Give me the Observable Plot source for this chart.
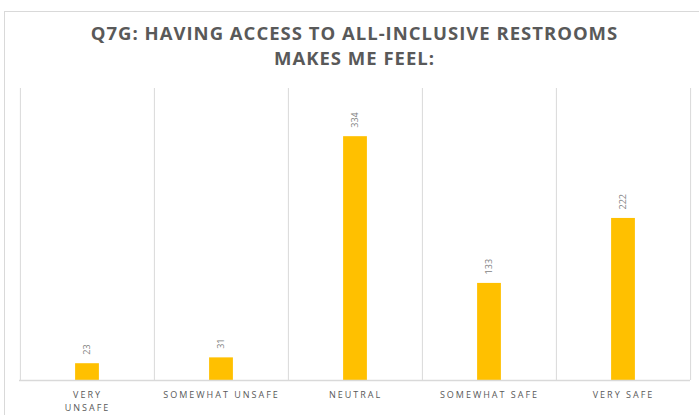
<!DOCTYPE html>
<html>
<head>
<meta charset="utf-8">
<script src="https://cdn.jsdelivr.net/npm/d3@7"></script>
<script src="https://cdn.jsdelivr.net/npm/@observablehq/plot@0.6"></script>
<style>
  html, body { margin: 0; padding: 0; background: #fff; }
  #wrap { position: relative; width: 699px; height: 415px; overflow: hidden; font-family: "Open Sans", sans-serif; }
  #border { position: absolute; left: 4px; top: 11px; width: 720px; height: 420px; border-left: 1px solid #d9d9d9; border-top: 1px solid #d9d9d9; }
  #title { position: absolute; left: 19px; width: 671px; top: 20px; text-align: center; color: #595959; font-weight: 700; font-size: 18.5px; line-height: 25px; letter-spacing: 1px; }
  #chart { position: absolute; left: 0; top: 78px; }
  .xlab text { letter-spacing: 2px; }
</style>
</head>
<body>
<div id="wrap">
  <div id="border"></div>
  <div id="title">Q7G: HAVING ACCESS TO ALL-INCLUSIVE RESTROOMS<br>MAKES ME FEEL:</div>
  <div id="chart"></div>
</div>
<script>
const categories = ["Very Unsafe", "Somewhat Unsafe", "Neutral", "Somewhat Safe", "Very Safe"];
const tickLabels = ["VERY\nUNSAFE", "SOMEWHAT UNSAFE", "NEUTRAL", "SOMEWHAT SAFE", "VERY SAFE"];
const values = [23, 31, 334, 133, 222];

const W = 699, H = 337, mL = 19, mR = 9, mT = 10, mB = 35;
const bw = (W - mL - mR) / categories.length;
const data = categories.map((c, i) => ({cat: c, value: values[i], label: tickLabels[i]}));

const chart = Plot.plot({
  width: W, height: H,
  marginLeft: mL, marginRight: mR, marginTop: mT, marginBottom: mB,
  style: {fontFamily: "Open Sans, sans-serif", background: "transparent", overflow: "visible"},
  x: {domain: categories, padding: 0, axis: null},
  y: {domain: [0, 400], axis: null},
  marks: [
    Plot.ruleX(categories, {x: d => d, dx: -bw / 2, stroke: "#d9d9d9", strokeWidth: 1}),
    Plot.ruleX([categories[categories.length - 1]], {x: d => d, dx: bw / 2, stroke: "#d9d9d9", strokeWidth: 1}),
    Plot.barY(data, {x: "cat", y: "value", fill: "#FFC000", insetLeft: (bw - 24) / 2, insetRight: (bw - 24) / 2}),
    Plot.ruleY([0], {stroke: "#d9d9d9", strokeWidth: 1.5}),
    Plot.text(data, {x: "cat", y: "value", text: d => String(d.value), rotate: -90, textAnchor: "start", dy: -9, fill: "#7f7f7f", fontSize: 9}),
    Plot.text(data, {x: "cat", y: () => 0, text: "label", lineAnchor: "top", dy: 8, fill: "#595959", fontSize: 9, lineHeight: 1.45, className: "xlab"})
  ]
});
document.getElementById("chart").appendChild(chart);
</script>
</body>
</html>
